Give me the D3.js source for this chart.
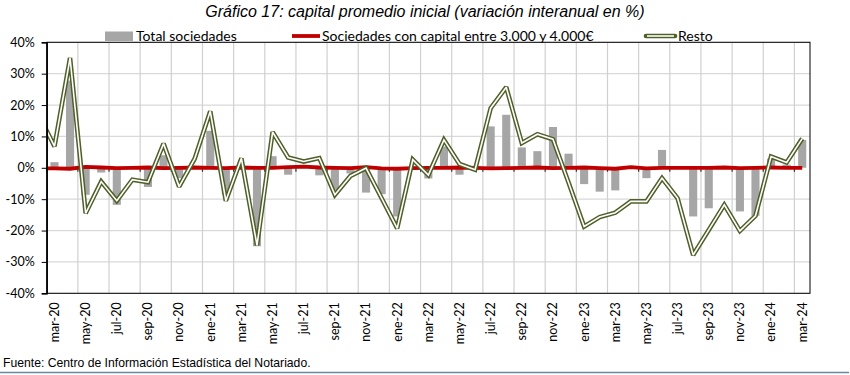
<!DOCTYPE html>
<html><head><meta charset="utf-8">
<script src="https://cdn.jsdelivr.net/npm/d3@7"></script>
<style>
body{margin:0;background:#fff;}
svg{display:block;}
</style></head>
<body>
<svg id="chart" width="850" height="375"></svg>
<script>
// ---- data ----
const months = ["mar-20","abr-20","may-20","jun-20","jul-20","ago-20","sep-20","oct-20","nov-20","dic-20",
"ene-21","feb-21","mar-21","abr-21","may-21","jun-21","jul-21","ago-21","sep-21","oct-21","nov-21","dic-21",
"ene-22","feb-22","mar-22","abr-22","may-22","jun-22","jul-22","ago-22","sep-22","oct-22","nov-22","dic-22",
"ene-23","feb-23","mar-23","abr-23","may-23","jun-23","jul-23","ago-23","sep-23","oct-23","nov-23","dic-23",
"ene-24","feb-24","mar-24"];
// line series start one month earlier (feb-20), clipped at the plot edge
const lineMonths = ["feb-20"].concat(months);

const totalSociedades = [1.8,27.8,-8.6,-1.5,-11.8,-0.3,-6.1,4.0,-3.3,0.5,
11.8,-8.5,0.2,-25.0,3.7,-2.2,0.3,-2.4,-7.0,-1.8,-7.9,-8.4,
-15.5,0.3,-3.4,6.8,-2.2,-0.2,13.2,16.9,6.5,5.3,13.0,4.5,
-5.2,-7.6,-7.2,0.3,-3.3,5.7,0.2,-15.5,-12.9,-0.2,-13.9,-15.3,
2.9,1.0,8.9];

const capital3000_4000 = [-0.2,-0.2,-0.3,0.3,0.1,-0.1,0.0,0.1,-0.1,0.0,0.1,
0.0,-0.1,0.1,0.0,0.0,0.2,0.4,0.1,0.0,-0.1,0.2,-0.2,
-0.3,-0.1,0.0,0.0,0.1,0.0,-0.2,-0.1,0.0,0.1,-0.1,0.0,
0.1,-0.1,-0.3,0.2,-0.2,0.0,0.0,0.0,0.0,0.1,-0.1,0.0,
0.1,0.0,0.0];

const resto = [16.8,6.8,35.0,-14.5,-4.4,-10.5,-3.8,-4.6,7.7,-6.0,2.9,
18.0,-10.5,3.0,-24.7,11.4,3.3,2.0,3.1,-8.6,-2.6,-0.1,-9.7,
-19.3,2.6,-2.3,8.9,1.2,-0.6,19.0,25.7,7.9,10.7,9.1,-4.7,
-18.7,-15.7,-14.3,-10.7,-10.7,-3.3,-9.7,-27.8,-19.8,-11.8,-20.1,-15.3,
3.6,1.7,9.3];

const yTicks = [-40,-30,-20,-10,0,10,20,30,40];
const seriesNames = ["Total sociedades","Sociedades con capital entre 3.000 y 4.000€","Resto"];
const titleText = "Gráfico 17: capital promedio inicial (variación interanual en %)";
const sourceText = "Fuente: Centro de Información Estadística del Notariado.";

// ---- layout ----
const L = 46.7, R = 810, T = 42.3, B = 293.3;
const svg = d3.select("#chart");
const font = "Lato, 'Open Sans', sans-serif";

const x = d3.scaleBand().domain(months).range([L, R]).paddingInner(0.48).paddingOuter(0.24);
const step = x.step();
const xLine = d3.scalePoint().domain(lineMonths).range([L - step/2, R - step/2]);
const xEdge = d3.scaleLinear().domain([0, months.length]).range([L, R]);
const y = d3.scaleLinear().domain([-40, 40]).range([B, T]);

// title
svg.append("text").attr("x", 425).attr("y", 17).attr("text-anchor", "middle")
  .attr("font-family", "'Liberation Sans', Arial, sans-serif").attr("font-style", "italic")
  .attr("font-size", 16).attr("fill", "#000").text(titleText);

// gridlines
const grid = svg.append("g");
grid.selectAll("line.h").data(yTicks.filter(d => d !== 0)).join("line")
  .attr("x1", L).attr("x2", R).attr("y1", d => y(d)).attr("y2", d => y(d))
  .attr("stroke", "#d9d9d9").attr("stroke-width", 1.2);
const vIdx = d3.range(2, months.length, 2);
grid.selectAll("line.v").data(vIdx).join("line")
  .attr("x1", d => xEdge(d)).attr("x2", d => xEdge(d)).attr("y1", T).attr("y2", B)
  .attr("stroke", "#d0d0d0").attr("stroke-width", 1.2);

// bars
svg.append("g").selectAll("rect").data(months).join("rect")
  .attr("x", d => x(d))
  .attr("width", x.bandwidth())
  .attr("y", (d, i) => y(Math.max(0, totalSociedades[i])))
  .attr("height", (d, i) => Math.abs(y(totalSociedades[i]) - y(0)))
  .attr("fill", "#a6a6a6");

// zero axis ticks
svg.append("g").selectAll("line").data(vIdx.concat([0])).join("line")
  .attr("x1", d => xEdge(d)).attr("x2", d => xEdge(d)).attr("y1", y(0)).attr("y2", y(0) + 4)
  .attr("stroke", "#333").attr("stroke-width", 1.2);

// clip
svg.append("clipPath").attr("id", "plotclip").append("rect")
  .attr("x", L).attr("y", T - 5).attr("width", R - L).attr("height", B - T + 10);

const line = d3.line().x(d => xLine(d.m)).y(d => y(d.v));
const redData = lineMonths.map((m, i) => ({m, v: capital3000_4000[i]}));
const restoData = lineMonths.map((m, i) => ({m, v: resto[i]}));

const lines = svg.append("g").attr("clip-path", "url(#plotclip)");
lines.append("path").datum(redData).attr("d", line)
  .attr("fill", "none").attr("stroke", "#c00000").attr("stroke-width", 3.8).attr("stroke-linejoin", "round");
lines.append("path").datum(restoData).attr("d", line)
  .attr("fill", "none").attr("stroke", "#4f5f28").attr("stroke-width", 4.6)
  .attr("stroke-linejoin", "miter").attr("stroke-miterlimit", 2.2);
lines.append("path").datum(restoData).attr("d", line)
  .attr("fill", "none").attr("stroke", "#ffffff").attr("stroke-width", 1.6)
  .attr("stroke-linejoin", "miter").attr("stroke-miterlimit", 2.2);

// frame
svg.append("rect").attr("x", L).attr("y", T).attr("width", R - L).attr("height", B - T)
  .attr("fill", "none").attr("stroke", "#000").attr("stroke-width", 1);

// y axis
const yAxis = svg.append("g").attr("transform", `translate(${L},0)`)
  .call(d3.axisLeft(y).tickValues(yTicks).tickFormat(d => d + "%").tickSize(5).tickPadding(7));
yAxis.select(".domain").attr("stroke", "#000").attr("stroke-width", 1.5);
yAxis.selectAll(".tick line").attr("stroke", "#000");
yAxis.selectAll("text").attr("font-family", font).attr("font-size", 12.5).attr("fill", "#000");

// x labels
const xAxis = svg.append("g").attr("transform", `translate(0,${B})`)
  .call(d3.axisBottom(x).tickValues(months.filter((d, i) => i % 2 === 0)).tickSize(0));
xAxis.select(".domain").remove();
xAxis.selectAll("text")
  .attr("transform", "rotate(-90)").attr("text-anchor", "end")
  .attr("x", -9).attr("y", 0).attr("dy", "0.35em")
  .attr("font-family", font).attr("font-size", 12.5).attr("fill", "#000");

// legend
const leg = svg.append("g").attr("font-family", font).attr("font-size", 14).attr("fill", "#000");
leg.append("rect").attr("x", 105).attr("y", 31.5).attr("width", 28).attr("height", 9.5).attr("fill", "#a6a6a6");
leg.append("text").attr("x", 136).attr("y", 41).text(seriesNames[0]);
leg.append("line").attr("x1", 292).attr("x2", 320).attr("y1", 36).attr("y2", 36)
  .attr("stroke", "#c00000").attr("stroke-width", 3.8);
leg.append("text").attr("x", 322).attr("y", 41).text(seriesNames[1]);
leg.append("line").attr("x1", 646).attr("x2", 675).attr("y1", 36).attr("y2", 36)
  .attr("stroke", "#4f5f28").attr("stroke-width", 4.6).attr("stroke-linecap", "round");
leg.append("line").attr("x1", 647).attr("x2", 674).attr("y1", 36).attr("y2", 36)
  .attr("stroke", "#fff").attr("stroke-width", 1.6);
leg.append("text").attr("x", 678).attr("y", 41).text(seriesNames[2]);

// source
svg.append("text").attr("x", 3).attr("y", 366.5)
  .attr("font-family", "'Liberation Sans', Arial, sans-serif").attr("font-size", 12.2)
  .attr("fill", "#000").text(sourceText);
svg.append("line").attr("x1", 0).attr("x2", 849).attr("y1", 372.5).attr("y2", 372.5)
  .attr("stroke", "#6b87a0").attr("stroke-width", 1.5);
</script>
</body></html>
